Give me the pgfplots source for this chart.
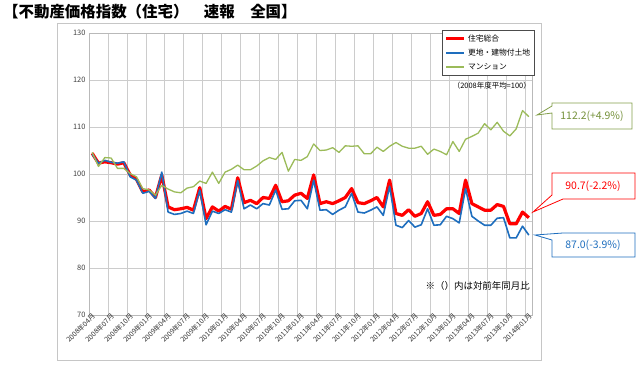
\documentclass[border=0pt]{standalone}
\usepackage{fontspec}
\usepackage{pgfplots}
\pgfplotsset{compat=1.18}
\setmainfont{Noto Sans CJK JP}
\definecolor{cred}{RGB}{255,0,0}
\definecolor{cblue}{RGB}{30,110,190}
\definecolor{cgreen}{RGB}{155,187,89}
\definecolor{tgreen}{RGB}{118,146,60}
\begin{document}
\begin{tikzpicture}[x=1bp,y=1bp]
\useasboundingbox (0,0) rectangle (640,364);
\draw[gray!45, line width=0.8bp] (57,4) rectangle (541,341);
\node[anchor=west, inner sep=0pt, font=\bfseries\fontsize{15.5}{16}\selectfont] at (3,352) {【不動産価格指数（住宅）　速報　全国】};
\begin{axis}[
  at={(89bp,49bp)}, anchor=south west,
  scale only axis, width=443bp, height=282bp,
  xmin=-0.5, xmax=69.5, ymin=70, ymax=130,
  ytick={70,80,...,130},
  xtick={0,3,...,69},
  xticklabels={2008年04月,2008年07月,2008年10月,2009年01月,2009年04月,2009年07月,2009年10月,2010年01月,2010年04月,2010年07月,2010年10月,2011年01月,2011年04月,2011年07月,2011年10月,2012年01月,2012年04月,2012年07月,2012年10月,2013年01月,2013年04月,2013年07月,2013年10月,2014年01月},
  xticklabel style={rotate=45, anchor=east, font=\fontsize{7}{7}\selectfont, inner sep=1pt, text=black!80, xshift=2.5bp, yshift=-1bp},
  yticklabel style={font=\fontsize{7.5}{8}\selectfont, text=black!75},
  minor xtick={-0.5,2.5,...,68.5},
  xminorgrids, ymajorgrids, xmajorgrids=false,
  grid style={gray!40, line width=0.9bp},
  minor grid style={gray!40, line width=0.9bp},
  axis line style={gray!55, line width=0.8bp},
  tick style={draw=none},
  /pgf/number format/assume math mode=true,
  legend cell align=left,
  legend style={at={(0.797,1.011)}, anchor=north west, draw=black!70, line width=0.6bp,
    font=\fontsize{7.8}{9}\selectfont, row sep=2.2bp, inner sep=2.5bp},
  legend image code/.code={\draw[#1] (0bp,0bp) -- (18bp,0bp);},
]
\addplot[cred, line width=3.2bp, line join=round] coordinates {
(0,104.4)(1,102.3)(2,102.6)(3,102.4)(4,102.1)(5,102.4)(6,99.8)(7,98.9)(8,96.2)(9,96.6)
(10,95.0)(11,99.8)(12,93.0)(13,92.4)(14,92.6)(15,92.9)(16,92.3)(17,97.1)(18,90.5)(19,93.0)
(20,92.1)(21,93.1)(22,92.5)(23,99.2)(24,93.9)(25,94.4)(26,93.7)(27,95.0)(28,94.8)(29,97.6)
(30,94.1)(31,94.3)(32,95.5)(33,95.9)(34,94.8)(35,99.8)(36,93.7)(37,94.1)(38,93.7)(39,94.3)
(40,95.0)(41,96.9)(42,93.9)(43,93.7)(44,94.3)(45,95.0)(46,93.0)(47,98.7)(48,91.6)(49,91.2)
(50,92.4)(51,91.0)(52,91.6)(53,94.1)(54,91.2)(55,91.4)(56,92.6)(57,92.6)(58,91.6)(59,98.7)
(60,93.7)(61,93.0)(62,92.3)(63,92.3)(64,93.5)(65,93.1)(66,89.4)(67,89.4)(68,91.9)(69,90.7)};
\addlegendentry{住宅総合}
\addplot[cblue, line width=1.6bp, line join=round] coordinates {
(0,104.2)(1,102.3)(2,102.9)(3,102.5)(4,102.3)(5,102.6)(6,99.4)(7,98.7)(8,95.9)(9,96.3)
(10,94.8)(11,100.4)(12,91.9)(13,91.4)(14,91.6)(15,92.1)(16,91.6)(17,96.6)(18,89.2)(19,92.1)
(20,91.6)(21,92.4)(22,91.9)(23,98.6)(24,92.6)(25,93.4)(26,92.6)(27,93.7)(28,93.4)(29,96.6)
(30,92.5)(31,92.6)(32,94.3)(33,94.4)(34,92.6)(35,98.7)(36,92.3)(37,92.4)(38,91.4)(39,92.3)
(40,93.0)(41,95.9)(42,91.9)(43,91.7)(44,92.3)(45,93.0)(46,91.2)(47,97.4)(48,89.1)(49,88.6)
(50,90.1)(51,88.7)(52,89.2)(53,92.6)(54,89.1)(55,89.2)(56,91.0)(57,90.5)(58,89.6)(59,96.9)
(60,91.0)(61,90.0)(62,89.1)(63,89.1)(64,90.6)(65,90.7)(66,86.4)(67,86.4)(68,88.9)(69,87.0)};
\addlegendentry{更地・建物付土地}
\addplot[cgreen, line width=1.3bp, line join=round] coordinates {
(0,104.6)(1,101.6)(2,103.5)(3,103.4)(4,101.2)(5,101.2)(6,100.1)(7,99.4)(8,96.9)(9,96.6)
(10,95.5)(11,97.6)(12,96.8)(13,96.2)(14,96.0)(15,97.0)(16,97.3)(17,98.5)(18,98.0)(19,100.4)
(20,98.0)(21,100.4)(22,101.0)(23,101.9)(24,100.9)(25,100.9)(26,101.7)(27,102.8)(28,103.5)(29,103.1)
(30,104.6)(31,100.6)(32,103.1)(33,102.9)(34,103.7)(35,106.4)(36,105.0)(37,105.1)(38,105.6)(39,104.6)
(40,106.0)(41,105.9)(42,106.0)(43,104.3)(44,104.3)(45,105.7)(46,104.8)(47,105.9)(48,106.7)(49,105.9)
(50,105.5)(51,105.5)(52,105.9)(53,104.2)(54,105.3)(55,104.8)(56,104.1)(57,106.9)(58,104.8)(59,107.4)
(60,108.0)(61,108.7)(62,110.7)(63,109.4)(64,111.0)(65,109.1)(66,108.1)(67,109.6)(68,113.5)(69,112.2)};
\addlegendentry{マンション}
\end{axis}
\node[anchor=east, inner sep=0pt, font=\fontsize{7.5}{8}\selectfont] at (531,278) {（2008年度平均=100）};
\node[anchor=east, inner sep=0pt, font=\fontsize{9.5}{10}\selectfont] at (530,78) {※（）内は対前年同月比};
% callouts
\draw[cgreen!85!black, fill=white, line width=0.8bp] (537,249) -- (552,258) -- (552,261) -- (632,261) -- (632,235) -- (552,235) -- (552,251) -- cycle;
\node[text=tgreen, font=\fontsize{10.5}{10}\selectfont] at (592,248) {112.2(+4.9\%)};
\draw[cred, fill=white, line width=0.8bp] (533,152) -- (563,165) -- (635,165) -- (635,191) -- (552,191) -- (552,169) -- cycle;
\node[text=cred, font=\fontsize{10.5}{10}\selectfont] at (593,178) {90.7(-2.2\%)};
\draw[cblue, fill=white, line width=0.8bp] (535,129) -- (563,131) -- (635,131) -- (635,107) -- (552,107) -- (552,124) -- cycle;
\node[text=cblue, font=\fontsize{10.5}{10}\selectfont] at (593,119) {87.0(-3.9\%)};
\end{tikzpicture}
\end{document}
